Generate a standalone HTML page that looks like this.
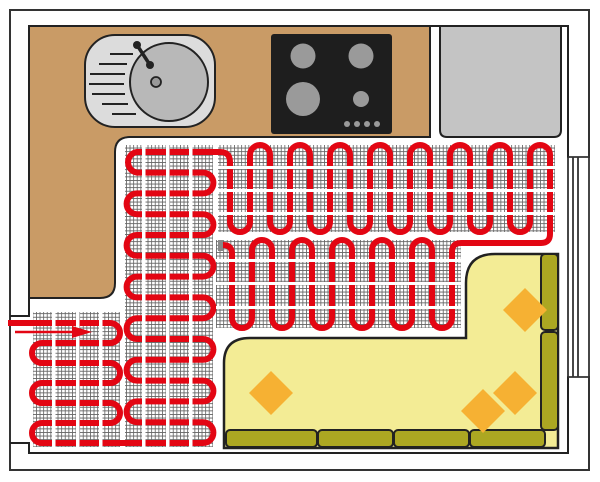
<!DOCTYPE html>
<html><head><meta charset="utf-8"><style>html,body{margin:0;padding:0;background:#fff}svg{display:block}</style></head>
<body>
<svg width="600" height="482" viewBox="0 0 600 482" xmlns="http://www.w3.org/2000/svg">
<defs>
<pattern id="g" width="3.6" height="3.6" patternUnits="userSpaceOnUse">
<rect width="3.6" height="3.6" fill="#fff"/>
<path d="M0 0.4H3.6M0.4 0V3.6" stroke="#666" stroke-width="0.9"/>
</pattern>
</defs>
<!-- walls -->
<rect x="10" y="10" width="579" height="460" fill="none" stroke="#333" stroke-width="2"/>
<rect x="29" y="26" width="539" height="427" fill="#fff" stroke="#222" stroke-width="2"/>
<rect x="23" y="317" width="12" height="125" fill="#fff"/>
<path d="M10 316H29M10 443H29" stroke="#222" stroke-width="2"/>
<rect x="563" y="158" width="30" height="218" fill="#fff"/>
<path d="M568 157V377M573 157V377M578 157V377M589 157V377M568 157H589M568 377H589" stroke="#333" stroke-width="1.8" fill="none"/>
<!-- counter -->
<path d="M29 26H430V137H130Q115 137 115 152V283Q115 298 100 298H29Z" fill="#c99b66" stroke="#222" stroke-width="2"/>
<path d="M440 26H561V130Q561 137 554 137H447Q440 137 440 130Z" fill="#c4c4c4" stroke="#222" stroke-width="2"/>
<!-- sink -->
<rect x="85" y="35" width="130" height="92" rx="30" fill="#dcdcdc" stroke="#222" stroke-width="2"/>
<circle cx="169" cy="82" r="39" fill="#b8b8b8" stroke="#222" stroke-width="2"/>
<circle cx="156" cy="82" r="5" fill="#999" stroke="#222" stroke-width="1.8"/>
<path d="M110 54H133M99 64H127M90 74H125M89 84H124M92 94H125M102 104H128M112 114H136" stroke="#222" stroke-width="2"/>
<path d="M137 45L150 65" stroke="#222" stroke-width="3.5" stroke-linecap="round"/>
<circle cx="137" cy="45" r="4" fill="#222"/><circle cx="150" cy="65" r="4" fill="#222"/>
<!-- hob -->
<rect x="271" y="34" width="121" height="100" rx="3" fill="#1e1e1e"/>
<circle cx="303" cy="56" r="12.5" fill="#9a9a9a"/>
<circle cx="361" cy="56" r="12.5" fill="#9a9a9a"/>
<circle cx="303" cy="99" r="17" fill="#9a9a9a"/>
<circle cx="361" cy="99" r="8" fill="#9a9a9a"/>
<g fill="#9a9a9a"><circle cx="347" cy="124" r="3"/><circle cx="357" cy="124" r="3"/><circle cx="367" cy="124" r="3"/><circle cx="377" cy="124" r="3"/></g>
<!-- mats -->
<rect x="125" y="145" width="88" height="302" fill="url(#g)"/>
<rect x="33" y="312" width="87" height="135" fill="url(#g)"/>
<rect x="218" y="145" width="337" height="87" fill="url(#g)"/>
<rect x="216" y="240" width="245" height="88" fill="url(#g)"/>
<!-- yellow area -->
<path d="M224 447V363Q224 338 250 338H466V283Q466 254 495 254H558V448H224Z" fill="#f3ec95" stroke="#222" stroke-width="2.5"/>
<!-- cable -->
<path fill="none" stroke="#e30613" stroke-width="6" d="
M8 323H110A10 10 0 0 1 110 343H42A10 10 0 0 0 42 363H110A10 10 0 0 1 110 383H42A10 10 0 0 0 42 403H110A10 10 0 0 1 110 423H42A10 10 0 0 0 42 443
H203A10.4 10.4 0 0 0 203 422.2H137A10.4 10.4 0 0 1 137 401.4H203A10.4 10.4 0 0 0 203 380.6H137A10.4 10.4 0 0 1 137 359.8H203A10.4 10.4 0 0 0 203 339H137A10.4 10.4 0 0 1 137 318.2H203A10.4 10.4 0 0 0 203 297.4H137A10.4 10.4 0 0 1 137 276.6H203A10.4 10.4 0 0 0 203 255.8H137A10.4 10.4 0 0 1 137 235H203A10.4 10.4 0 0 0 203 214.2H137A10.4 10.4 0 0 1 137 193.4H203A10.4 10.4 0 0 0 203 172.6H137A10.4 10.4 0 0 1 137 152
H220Q230 152 230 162V222A10 10 0 0 0 250 222V155A10 10 0 0 1 270 155V222A10 10 0 0 0 290 222V155A10 10 0 0 1 310 155V222A10 10 0 0 0 330 222V155A10 10 0 0 1 350 155V222A10 10 0 0 0 370 222V155A10 10 0 0 1 390 155V222A10 10 0 0 0 410 222V155A10 10 0 0 1 430 155V222A10 10 0 0 0 450 222V155A10 10 0 0 1 470 155V222A10 10 0 0 0 490 222V155A10 10 0 0 1 510 155V222A10 10 0 0 0 530 222V155A10 10 0 0 1 550 155
V234Q550 243 541 243H461Q452 243 452 252
V318A10 10 0 0 1 432 318V250A10 10 0 0 0 412 250V318A10 10 0 0 1 392 318V250A10 10 0 0 0 372 250V318A10 10 0 0 1 352 318V250A10 10 0 0 0 332 250V318A10 10 0 0 1 312 318V250A10 10 0 0 0 292 250V318A10 10 0 0 1 272 318V250A10 10 0 0 0 252 250V318A10 10 0 0 1 232 318V254Q232 245 223 245"/>
<rect x="218" y="240" width="5" height="11" fill="#888"/>
<!-- white strips -->
<g fill="#fff">
<rect x="142" y="145" width="3.5" height="302"/><rect x="166" y="145" width="3.5" height="302"/><rect x="189" y="145" width="3.5" height="302"/>
<rect x="52" y="312" width="3.5" height="135"/><rect x="76" y="312" width="3.5" height="135"/><rect x="99" y="312" width="3.5" height="135"/>
<rect x="218" y="166" width="337" height="3"/><rect x="218" y="189" width="337" height="3"/><rect x="218" y="212" width="337" height="3"/>
<rect x="216" y="259" width="245" height="3"/><rect x="216" y="282" width="245" height="3"/><rect x="216" y="306" width="245" height="3"/>
</g>
<!-- arrow -->
<path d="M15 332H78" stroke="#e30613" stroke-width="2.5"/>
<path d="M72 326L92 332L72 338Z" fill="#e30613"/>
<!-- sofa -->
<g fill="#aca722" stroke="#222" stroke-width="2">
<rect x="226" y="430" width="91" height="17" rx="4"/>
<rect x="318" y="430" width="75" height="17" rx="4"/>
<rect x="394" y="430" width="75" height="17" rx="4"/>
<rect x="470" y="430" width="75" height="17" rx="4"/>
<rect x="541" y="254" width="17" height="76" rx="4"/>
<rect x="541" y="332" width="17" height="98" rx="4"/>
</g>
<!-- diamonds -->
<g fill="#f6b133">
<path d="M271 371L293 393L271 415L249 393Z"/>
<path d="M525 288L547 310L525 332L503 310Z"/>
<path d="M515 371L537 393L515 415L493 393Z"/>
<path d="M483 389L505 411L483 433L461 411Z"/>
</g>
</svg>
</body></html>
